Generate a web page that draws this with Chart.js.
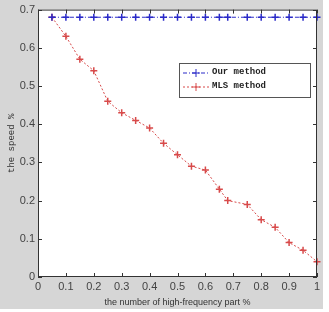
<!DOCTYPE html>
<html>
<head>
<meta charset="utf-8">
<script src="https://cdn.jsdelivr.net/npm/chart.js@4"></script>
<style>
  html, body { margin: 0; padding: 0; background: #ffffff; }
  #wrap { width: 329px; height: 312px; }
</style>
</head>
<body>
<div id="wrap"><canvas id="speedChart" width="329" height="312"></canvas></div>
<script>
// --- Data ---
const xValues = [0.05, 0.1, 0.15, 0.2, 0.25, 0.3, 0.35, 0.4, 0.45, 0.5, 0.55, 0.6, 0.65, 0.68, 0.75, 0.8, 0.85, 0.9, 0.95, 1.0];
const ourMethod = [0.68, 0.68, 0.68, 0.68, 0.68, 0.68, 0.68, 0.68, 0.68, 0.68, 0.68, 0.68, 0.68, 0.68, 0.68, 0.68, 0.68, 0.68, 0.68, 0.68];
const mlsMethod = [0.68, 0.63, 0.57, 0.54, 0.46, 0.43, 0.41, 0.39, 0.35, 0.32, 0.29, 0.28, 0.23, 0.20, 0.19, 0.15, 0.13, 0.09, 0.07, 0.04];
const seriesLabels = ['Our method', 'MLS method'];
const xTicks = [0, 0.1, 0.2, 0.3, 0.4, 0.5, 0.6, 0.7, 0.8, 0.9, 1];
const yTicks = [0, 0.1, 0.2, 0.3, 0.4, 0.5, 0.6, 0.7];

const toPoints = (xs, ys) => xs.map((x, i) => ({ x: x, y: ys[i] }));

// figure background (grey) + white axes box + inward ticks
const matlabFrame = {
    id: 'matlabFrame',
    beforeDraw(chart) {
        const { ctx, chartArea: a } = chart;
        ctx.save();
        ctx.fillStyle = '#ffffff';
        ctx.fillRect(0, 0, chart.width, chart.height);
        ctx.fillStyle = '#d6d6d6';
        ctx.fillRect(0, 0, 323, 309);
        ctx.fillStyle = '#ffffff';
        ctx.fillRect(a.left, a.top, a.right - a.left, a.bottom - a.top);
        ctx.restore();
    },
    afterDraw(chart) {
        const { ctx, chartArea: a, scales } = chart;
        ctx.save();
        ctx.strokeStyle = '#333333';
        ctx.lineWidth = 1;
        ctx.strokeRect(a.left + 0.5, a.top + 0.5, a.right - a.left - 1, a.bottom - a.top - 1);
        ctx.beginPath();
        xTicks.forEach(v => {
            const px = Math.round(scales.x.getPixelForValue(v)) + 0.5;
            ctx.moveTo(px, a.bottom); ctx.lineTo(px, a.bottom - 4);
            ctx.moveTo(px, a.top); ctx.lineTo(px, a.top + 4);
        });
        yTicks.forEach(v => {
            const py = Math.round(scales.y.getPixelForValue(v)) + 0.5;
            ctx.moveTo(a.left, py); ctx.lineTo(a.left + 4, py);
            ctx.moveTo(a.right, py); ctx.lineTo(a.right - 4, py);
        });
        ctx.stroke();

        // legend box inside the axes
        const lx = 179, ly = 63, lw = 131, lh = 34;
        ctx.fillStyle = '#ffffff';
        ctx.fillRect(lx, ly, lw, lh);
        ctx.strokeStyle = '#555555';
        ctx.strokeRect(lx + 0.5, ly + 0.5, lw, lh);
        chart.data.datasets.forEach((ds, i) => {
            const y = ly + 10 + i * 14;
            ctx.strokeStyle = ds.borderColor;
            ctx.setLineDash(ds.borderDash);
            ctx.beginPath();
            ctx.moveTo(lx + 4, y); ctx.lineTo(lx + 30, y);
            ctx.stroke();
            ctx.setLineDash([]);
            ctx.beginPath();
            ctx.moveTo(lx + 17, y - 4); ctx.lineTo(lx + 17, y + 4);
            ctx.moveTo(lx + 13, y); ctx.lineTo(lx + 21, y);
            ctx.stroke();
            ctx.fillStyle = '#222222';
            ctx.font = 'bold 9px "Liberation Mono", "DejaVu Sans Mono", monospace';
            ctx.textBaseline = 'middle';
            ctx.fillText(ds.label, lx + 33, y - 1);
        });
        ctx.restore();
    }
};

document.addEventListener('DOMContentLoaded', () => {
    const ctx = document.getElementById('speedChart').getContext('2d');
    new Chart(ctx, {
        type: 'line',
        data: {
            datasets: [{
                label: seriesLabels[0],
                data: toPoints(xValues, ourMethod),
                borderColor: '#2a2ac8',
                backgroundColor: '#2a2ac8',
                borderWidth: 1,
                borderDash: [4, 2, 1, 2],
                pointStyle: 'cross',
                pointRadius: 3.5,
                pointBorderWidth: 1.5,
                clip: false,
                tension: 0
            }, {
                label: seriesLabels[1],
                data: toPoints(xValues, mlsMethod),
                borderColor: '#d84a4a',
                backgroundColor: '#d84a4a',
                borderWidth: 1,
                borderDash: [2, 2],
                pointStyle: 'cross',
                pointRadius: 3.5,
                pointBorderWidth: 1.5,
                clip: false,
                tension: 0
            }]
        },
        options: {
            responsive: false,
            animation: false,
            layout: { padding: { left: 6, top: 0, right: 12, bottom: 4 } },
            plugins: {
                legend: { display: false },
                tooltip: { enabled: false }
            },
            scales: {
                x: {
                    type: 'linear',
                    min: 0, max: 1,
                    afterBuildTicks: s => { s.ticks = xTicks.map(v => ({ value: v })); },
                    afterFit: s => { s.height = 31; },
                    grid: { display: false, drawTicks: false },
                    border: { display: false },
                    ticks: {
                        color: '#444444', padding: 3, maxRotation: 0,
                        font: { family: 'Liberation Sans', size: 11 },
                        callback: v => String(v)
                    },
                    title: {
                        display: true,
                        text: 'the number of high-frequency part %',
                        color: '#333333',
                        font: { family: 'Liberation Sans Narrow, Liberation Sans', size: 9 },
                        padding: { top: 2, bottom: 0 }
                    }
                },
                y: {
                    min: 0, max: 0.7,
                    afterBuildTicks: s => { s.ticks = yTicks.map(v => ({ value: v })); },
                    afterFit: s => { s.width = 32; },
                    grid: { display: false, drawTicks: false },
                    border: { display: false },
                    ticks: {
                        color: '#444444', padding: 3,
                        font: { family: 'Liberation Sans', size: 11 },
                        callback: v => String(v)
                    },
                    title: {
                        display: true,
                        text: 'the speed %',
                        color: '#333333',
                        font: { family: 'Liberation Mono', size: 9 },
                        padding: { top: 0, bottom: 0 }
                    }
                }
            }
        },
        plugins: [matlabFrame]
    });
});
</script>
</body>
</html>
